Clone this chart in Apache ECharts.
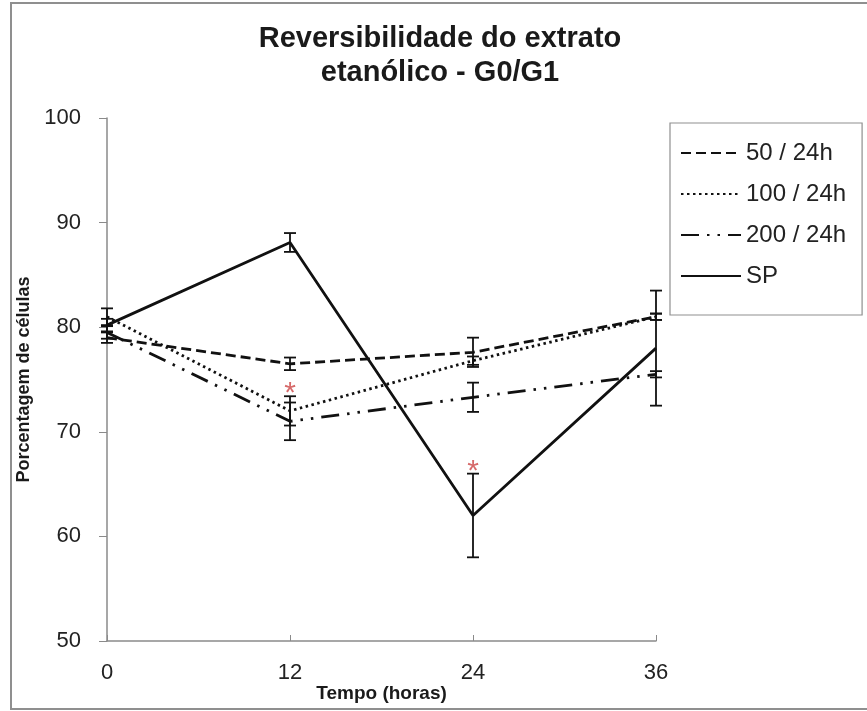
<!DOCTYPE html>
<html>
<head>
<meta charset="utf-8">
<script src="https://cdn.jsdelivr.net/npm/echarts@6/dist/echarts.min.js"></script>
<style>
  html, body { margin: 0; padding: 0; background: #fff; }
  #chart { width: 867px; height: 711px; }
</style>
</head>
<body>
<div id="chart"></div>
<script>
// Time points (hours)
const hours = [0, 12, 24, 36];

// Mean percentage of cells in G0/G1 and error values
const s50 = [79.0, 76.5, 77.6, 81.0];
const e50 = [0.5, 0.6, 1.4, 0.3];
const s100 = [81.0, 72.0, 76.8, 81.0];
const e100 = [0.8, 1.4, 0.4, 0.3];
const s200 = [79.5, 71.0, 73.3, 75.5];
const e200 = [0.6, 1.8, 1.4, 0.3];
const sp = [80.2, 88.1, 62.0, 78.0];
const esp = [0.6, 0.9, 4.0, 5.5];

// Significance markers
const starX = [12, 24];
const starY = [74.4, 66.9];

const seriesNames = ['50 / 24h', '100 / 24h', '200 / 24h', 'SP'];
const FONT = 'Liberation Sans, Arial, sans-serif';

const pairs = (ys) => hours.map((h, i) => [h, ys[i]]);
const bars = (ys, es) => hours.map((h, i) => [h, ys[i] - es[i], ys[i] + es[i]]);

function lineSeries(name, ys, dash) {
  return {
    name: name,
    type: 'line',
    data: pairs(ys),
    symbol: 'none',
    color: '#111',
    lineStyle: { color: '#111', width: 2.8, type: dash },
    z: 3
  };
}

function errSeries(ys, es) {
  return {
    type: 'custom',
    data: bars(ys, es),
    silent: true,
    z: 4,
    renderItem: function (params, api) {
      const lo = api.coord([api.value(0), api.value(1)]);
      const hi = api.coord([api.value(0), api.value(2)]);
      const w = 6;
      const st = { stroke: '#111', lineWidth: 1.8 };
      return {
        type: 'group',
        children: [
          { type: 'line', shape: { x1: lo[0], y1: lo[1], x2: hi[0], y2: hi[1] }, style: st },
          { type: 'line', shape: { x1: lo[0] - w, y1: lo[1], x2: lo[0] + w, y2: lo[1] }, style: st },
          { type: 'line', shape: { x1: hi[0] - w, y1: hi[1], x2: hi[0] + w, y2: hi[1] }, style: st }
        ]
      };
    }
  };
}

const chart = echarts.init(document.getElementById('chart'), null, { renderer: 'canvas' });

chart.setOption({
  backgroundColor: '#fff',
  animation: false,
  title: {
    text: 'Reversibilidade do extrato\netanólico - G0/G1',
    left: 435,
    textAlign: 'center',
    top: 17,
    textStyle: { fontFamily: FONT, fontSize: 29, fontWeight: 'bold', color: '#1a1a1a', lineHeight: 34 }
  },
  graphic: [
    {
      type: 'rect',
      shape: { x: 11, y: 3, width: 880, height: 706 },
      style: { fill: 'none', stroke: '#8f8f8f', lineWidth: 2 },
      silent: true
    }
  ],
  legend: {
    orient: 'vertical',
    left: 670,
    top: 123,
    data: seriesNames,
    itemWidth: 60,
    itemHeight: 14,
    itemGap: 17,
    padding: [18, 16, 27, 10],
    borderColor: '#8f8f8f',
    borderWidth: 1.2,
    itemStyle: { opacity: 0 },
    textStyle: { fontFamily: FONT, fontSize: 24, color: '#222' }
  },
  grid: { left: 107, right: 211, top: 118, bottom: 70, outerBoundsMode: 'none', containLabel: false },
  xAxis: {
    type: 'value',
    min: 0,
    max: 36,
    interval: 12,
    name: 'Tempo (horas)',
    nameLocation: 'middle',
    nameGap: 43,
    nameMoveOverlap: false,
    nameTextStyle: { fontFamily: FONT, fontSize: 19, fontWeight: 'bold', color: '#1a1a1a' },
    axisLine: { lineStyle: { color: '#8a8a8a', width: 1.5 } },
    axisTick: { inside: true, length: 6, lineStyle: { color: '#8a8a8a' } },
    axisLabel: { fontFamily: FONT, fontSize: 22, color: '#222', margin: 21 },
    splitLine: { show: false }
  },
  yAxis: {
    type: 'value',
    min: 50,
    max: 100,
    interval: 10,
    name: 'Porcentagem de células',
    nameLocation: 'middle',
    nameGap: 73,
    nameTextStyle: { fontFamily: FONT, fontSize: 18, fontWeight: 'bold', color: '#1a1a1a' },
    axisLine: { show: true, lineStyle: { color: '#8a8a8a', width: 1.5 } },
    axisTick: { show: true, length: 8, lineStyle: { color: '#8a8a8a' } },
    axisLabel: { fontFamily: FONT, fontSize: 22, color: '#222', margin: 26 },
    splitLine: { show: false }
  },
  series: [
    lineSeries(seriesNames[0], s50, [10, 5]),
    lineSeries(seriesNames[1], s100, [2.5, 3.5]),
    lineSeries(seriesNames[2], s200, [18, 8, 2.5, 8, 2.5, 8]),
    lineSeries(seriesNames[3], sp, 'solid'),
    errSeries(s50, e50),
    errSeries(s100, e100),
    errSeries(s200, e200),
    errSeries(sp, esp),
    {
      type: 'scatter',
      data: starX.map((x, i) => [x, starY[i]]),
      symbolSize: 1,
      itemStyle: { color: 'rgba(0,0,0,0)' },
      label: {
        show: true,
        position: 'inside',
        formatter: '*',
        fontFamily: FONT,
        fontSize: 30,
        color: '#cc4444',
        offset: [0, 8]
      },
      silent: true,
      z: 5
    }
  ]
});
</script>
</body>
</html>
